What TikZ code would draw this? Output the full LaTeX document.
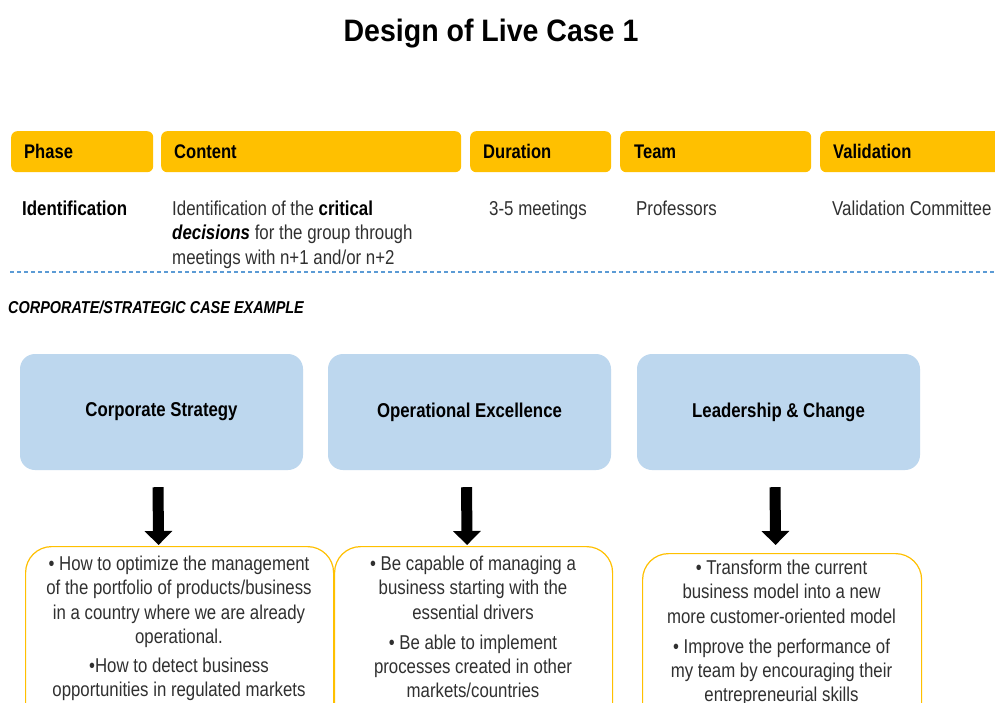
\documentclass[tikz,border=0pt]{standalone}
\usepackage{fontspec}
\setmainfont{Liberation Sans}[FakeStretch=0.84]
\newfontfamily\titlefont{Liberation Sans}[FakeStretch=0.92]
\usetikzlibrary{arrows.meta}
\definecolor{hdryellow}{HTML}{FFC000}
\definecolor{boxblue}{HTML}{BDD7EE}
\definecolor{dashblue}{HTML}{5B9BD5}
\definecolor{bodygray}{HTML}{303030}
\begin{document}
\begin{tikzpicture}[x=1pt,y=-1pt,
  hdrbox/.style={fill=hdryellow, draw=none, rounded corners=6pt, minimum height=41pt, inner sep=0pt, anchor=north west},
  hdrlabel/.style={font=\bfseries\fontsize{19.7}{23}\selectfont, anchor=base west, inner sep=0pt, text=black},
  rowtext/.style={font=\fontsize{20.1}{24.5}\selectfont, anchor=base west, inner sep=0pt, text=bodygray},
  bluebox/.style={fill=boxblue, draw=none, rounded corners=15pt, minimum width=283pt, minimum height=116pt, inner sep=0pt, font=\bfseries\fontsize{20}{24}\selectfont, text=black},
  outbox/.style={draw=hdryellow, line width=1.2pt, fill=white, rounded corners=26pt, minimum height=220pt, inner sep=0pt, anchor=north west},
  bultext/.style={font=\fontsize{20}{24.4}\selectfont, align=center, anchor=north, inner sep=0pt, text=bodygray},
  bigarrow/.style={line width=11pt, -{Triangle[width=27pt,length=14pt]}, black}
]
\clip (0,0) rectangle (995,702);
\fill[white] (0,0) rectangle (995,702);

% title
\node[font=\titlefont\bfseries\fontsize{31}{36}\selectfont, anchor=base, inner sep=0pt] (title) at (491,41) {Design of Live Case 1};

% header boxes
\node[hdrbox, minimum width=142pt] (hphase) at (11,131) {};
\node[hdrbox, minimum width=300pt] (hcontent) at (161,131) {};
\node[hdrbox, minimum width=141pt] (hduration) at (470,131) {};
\node[hdrbox, minimum width=191pt] (hteam) at (620,131) {};
\node[hdrbox, minimum width=200pt] (hvalid) at (820,131) {};
\node[hdrlabel] (lphase) at (24,158) {Phase};
\node[hdrlabel] (lcontent) at (174,158) {Content};
\node[hdrlabel] (lduration) at (483,158) {Duration};
\node[hdrlabel] (lteam) at (634,158) {Team};
\node[hdrlabel] (lvalid) at (833,158) {Validation};

% row
\node[rowtext, text=black, font=\bfseries\fontsize{20.1}{24.5}\selectfont] (rphase) at (22,215) {Identification};
\node[font=\fontsize{20.1}{24.5}\selectfont, align=left, anchor=north west, inner sep=0pt, text=bodygray] (rcontent) at (172,200.5)
  {Identification of the \textcolor{black}{\textbf{critical}}\\ \textcolor{black}{\textbf{\textit{decisions}}} for the group through\\ meetings with n+1 and/or n+2};
\node[rowtext] (rduration) at (489,215) {3-5 meetings};
\node[rowtext] (rteam) at (636,215) {Professors};
\node[rowtext] (rvalid) at (832,215) {Validation Committee};

% dashed separator
\coordinate (dashL) at (10,272);
\coordinate (dashR) at (995,272);
\draw[dashblue, line width=1.3pt, dash pattern=on 4pt off 3pt] (dashL) -- (dashR);

\node[font=\bfseries\itshape\fontsize{17.2}{20}\selectfont, anchor=base west, inner sep=0pt] (case) at (8,313) {CORPORATE/STRATEGIC CASE EXAMPLE};

% blue boxes
\node[bluebox] (cs) at (161.5,412) {\raisebox{-1pt}{Corporate Strategy}};
\node[bluebox] (oe) at (469.5,412) {\raisebox{-1pt}{Operational Excellence}};
\node[bluebox] (lc) at (778.5,412) {\raisebox{-1pt}{Leadership \& Change}};

% bottom boxes
\node[outbox, minimum width=308pt] (b1) at (25,546) {};
\node[outbox, minimum width=278pt] (b2) at (334,546) {};
\node[outbox, minimum width=279pt] (b3) at (642,553) {};

% arrows
\draw[bigarrow] ([xshift=-3.5pt,yshift=-17pt]cs.south) -- ([xshift=-21pt,yshift=1pt]b1.north);
\draw[bigarrow] ([xshift=-3pt,yshift=-17pt]oe.south) -- ([xshift=-6.5pt,yshift=1pt]b2.north);
\draw[bigarrow] ([xshift=-3.5pt,yshift=-17pt]lc.south) -- ([xshift=-6.5pt,yshift=8pt]b3.north);

% bullet texts
\node[bultext] (t1) at (179,555.5) {• How to optimize the management\\ of the portfolio of products/business\\ in a country where we are already\\ operational.\\[4.6pt] •How to detect business\\ opportunities in regulated markets};
\node[bultext] (t2) at (473,555.5) {• Be capable of managing a\\ business starting with the\\ essential drivers\\[5.6pt] • Be able to implement\\ processes created in other\\ markets/countries};
\node[bultext] (t3) at (781.5,559.5) {• Transform the current\\ business model into a new\\ more customer-oriented model\\[5.6pt] • Improve the performance of\\ my team by encouraging their\\ entrepreneurial skills};
\end{tikzpicture}
\end{document}
